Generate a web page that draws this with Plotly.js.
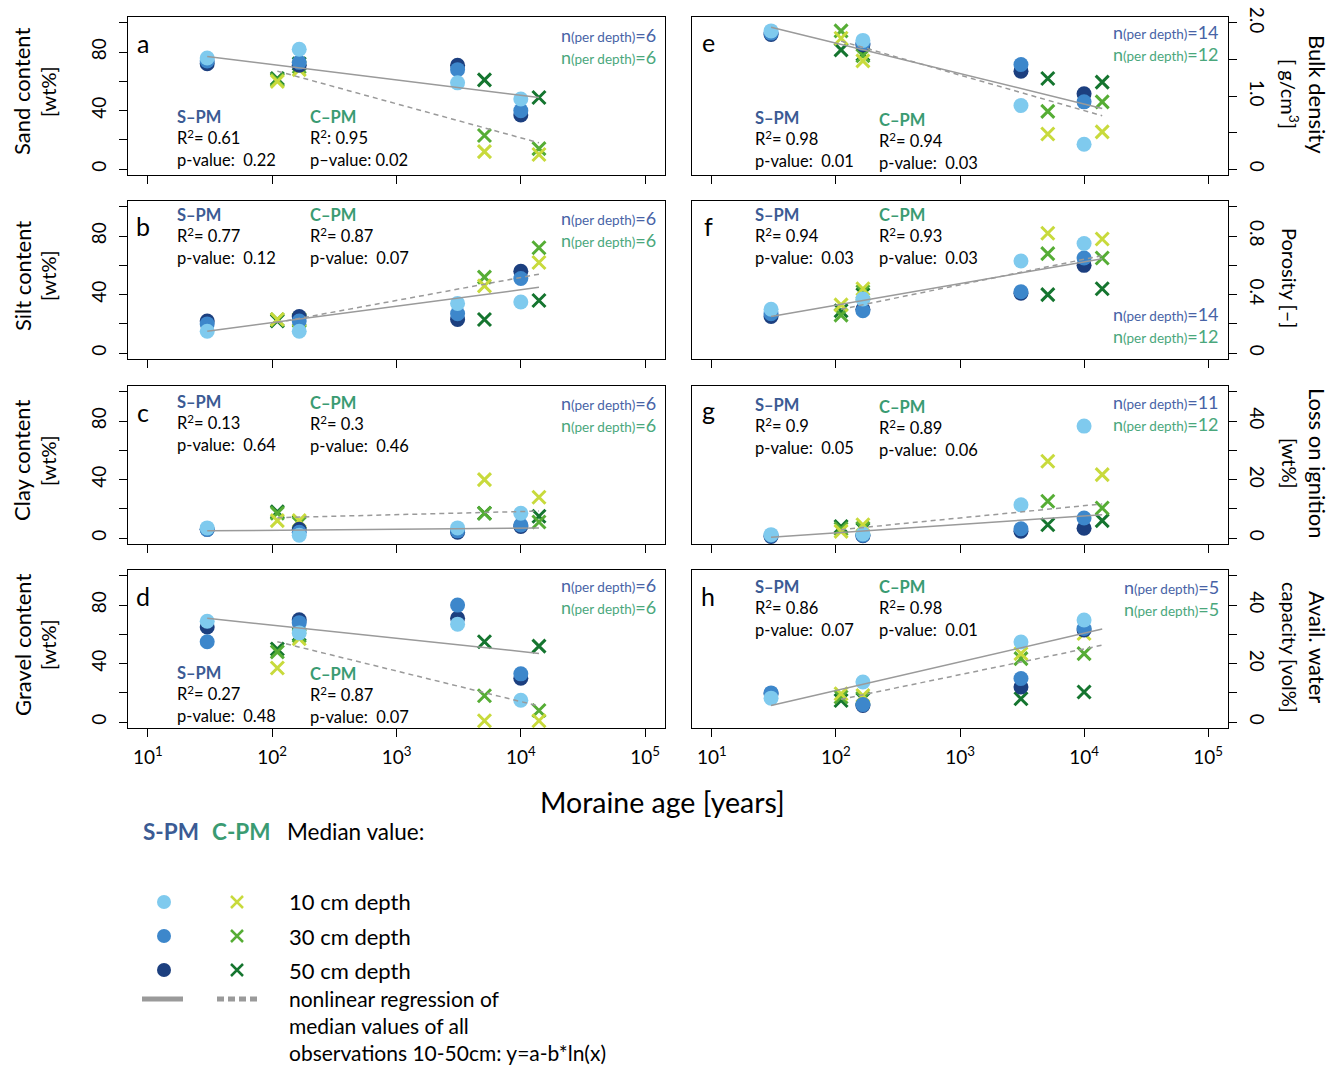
<!DOCTYPE html>
<html>
<head>
<meta charset="utf-8">
<script src="https://cdn.plot.ly/plotly-3.0.1.min.js"></script>
<style>html,body{margin:0;padding:0;background:#fff;}#chart{width:1340px;height:1065px;}</style>
</head>
<body>
<div id="chart"></div>
<script>
// ---------------- DATA ----------------
const sAge = [30, 165, 3100, 10000];
const cAge = [110, 165, 5100, 14000];
const cAgeH = [110, 165, 3100, 10000];
const fitAgeS = [30, 14000];
const fitAgeC = [110, 14000];
const xTickVals = [10, 100, 1000, 10000, 100000];
const xTickText = ['10<sup>1</sup>', '10<sup>2</sup>', '10<sup>3</sup>', '10<sup>4</sup>', '10<sup>5</sup>'];

// a: sand content [wt%]
const sand_S10 = [76, 82, 59, 48];
const sand_S30 = [74, 73, 68, 40];
const sand_S50 = [72, 71, 71, 37];
const sand_C10 = [60, 68, 12, 10];
const sand_C30 = [61, 70, 23, 14];
const sand_C50 = [62, 72, 61, 49];
const sand_fitS = [77, 49];
const sand_fitC = [67, 18];

// b: silt content [wt%]
const silt_S10 = [15, 15, 34, 35];
const silt_S30 = [20, 22, 27, 51];
const silt_S50 = [22, 25, 23, 56];
const silt_C10 = [23, 23, 46, 62];
const silt_C30 = [23, 22, 52, 72];
const silt_C50 = [22, 23, 23, 36];
const silt_fitS = [15, 45];
const silt_fitC = [21, 54];

// c: clay content [wt%]
const clay_S10 = [7, 2, 7, 17];
const clay_S30 = [6, 4, 5, 9];
const clay_S50 = [6, 6, 4, 8];
const clay_C10 = [12, 12, 40, 28];
const clay_C30 = [17, 10, 17, 11];
const clay_C50 = [18, 11, 17, 15];
const clay_fitS = [5, 7];
const clay_fitC = [14, 18.5];

// d: gravel content [wt%]
const grav_S10 = [69, 61, 67, 15];
const grav_S30 = [55, 68, 80, 33];
const grav_S50 = [65, 70, 71, 30];
const grav_C10 = [37, 57, 1, 1];
const grav_C30 = [48, 59, 18, 8];
const grav_C50 = [50, 60, 55, 52];
const grav_fitS = [71, 47];
const grav_fitC = [55, 11];

// e: bulk density [g/cm3]
const bd_S10 = [1.89, 1.76, 0.87, 0.34];
const bd_S30 = [1.86, 1.72, 1.43, 0.92];
const bd_S50 = [1.84, 1.70, 1.34, 1.03];
const bd_C10 = [1.79, 1.48, 0.48, 0.51];
const bd_C30 = [1.89, 1.55, 0.79, 0.92];
const bd_C50 = [1.63, 1.57, 1.24, 1.19];
const bd_fitS = [1.94, 0.83];
const bd_fitC = [1.75, 0.73];

// f: porosity [-]
const por_S10 = [0.30, 0.37, 0.63, 0.75];
const por_S30 = [0.27, 0.29, 0.42, 0.65];
const por_S50 = [0.25, 0.30, 0.41, 0.60];
const por_C10 = [0.33, 0.44, 0.82, 0.78];
const por_C30 = [0.26, 0.42, 0.68, 0.65];
const por_C50 = [0.29, 0.40, 0.40, 0.44];
const por_fitS = [0.25, 0.645];
const por_fitC = [0.30, 0.667];

// g: loss on ignition [wt%]
const loi_S10 = [1.2, 1.4, 11.4, 38.3];
const loi_S30 = [0.9, 1.0, 3.2, 6.9];
const loi_S50 = [0.6, 0.8, 2.4, 3.4];
const loi_C10 = [2.3, 4.6, 26.3, 21.7];
const loi_C30 = [3.2, 3.4, 12.6, 10.3];
const loi_C50 = [4.0, 3.0, 4.6, 6.0];
const loi_fitS = [0.3, 8];
const loi_fitC = [2.9, 11.7];

// h: available water capacity [vol%]
const awc_S10 = [8.2, 13.7, 27.4, 34.9];
const awc_S30 = [10, 6, 14.9, 32];
const awc_S50 = [9.7, 5.7, 12, 31.5];
const awc_C10 = [9.7, 9.1, 23.4, 30.3];
const awc_C30 = [8.6, 8.2, 21.7, 23.4];
const awc_C50 = [7.4, 7.8, 8.0, 10.3];
const awc_fitS = [5.7, 31.8];
const awc_fitC = [7.8, 26.3];

const letters = ['a', 'b', 'c', 'd', 'e', 'f', 'g', 'h'];
const statS = [['0.61', '0.22'], ['0.77', '0.12'], ['0.13', '0.64'], ['0.27', '0.48'], ['0.98', '0.01'], ['0.94', '0.03'], ['0.9', '0.05'], ['0.86', '0.07']];
const statC = [['0.95', '0.02'], ['0.87', '0.07'], ['0.3', '0.46'], ['0.87', '0.07'], ['0.94', '0.03'], ['0.93', '0.03'], ['0.89', '0.06'], ['0.98', '0.01']];
const nS = [6, 6, 6, 6, 14, 14, 11, 5];
const nC = [6, 6, 6, 6, 12, 12, 12, 5];

// ---------------- STYLE / LAYOUT ----------------
const W = 1340, H = 1065;
const FONT = 'Lato, "Open Sans", sans-serif';
const colS = ['#7fcaee', '#3d87cb', '#1c3f7f'];
const colC = ['#c8da3c', '#56ad35', '#15752f'];
const labS = '#3b5b94', labC = '#3a9b72';
const nColS = '#4863a6', nColC = '#4aa77c';
const fitCol = '#9a9a9a';

const px = x => x / W;
const py = y => 1 - y / H;

const colX = [[128, 665], [692, 1228]];
const rowY = [[17, 175], [201, 359], [386, 544], [570, 728]];

const panels = [
  {S: [sand_S10, sand_S30, sand_S50], C: [sand_C10, sand_C30, sand_C50], fS: sand_fitS, fC: sand_fitC, cA: cAge},
  {S: [silt_S10, silt_S30, silt_S50], C: [silt_C10, silt_C30, silt_C50], fS: silt_fitS, fC: silt_fitC, cA: cAge},
  {S: [clay_S10, clay_S30, clay_S50], C: [clay_C10, clay_C30, clay_C50], fS: clay_fitS, fC: clay_fitC, cA: cAge},
  {S: [grav_S10, grav_S30, grav_S50], C: [grav_C10, grav_C30, grav_C50], fS: grav_fitS, fC: grav_fitC, cA: cAge},
  {S: [bd_S10, bd_S30, bd_S50], C: [bd_C10, bd_C30, bd_C50], fS: bd_fitS, fC: bd_fitC, cA: cAge},
  {S: [por_S10, por_S30, por_S50], C: [por_C10, por_C30, por_C50], fS: por_fitS, fC: por_fitC, cA: cAge},
  {S: [loi_S10, loi_S30, loi_S50], C: [loi_C10, loi_C30, loi_C50], fS: loi_fitS, fC: loi_fitC, cA: cAge},
  {S: [awc_S10, awc_S30, awc_S50], C: [awc_C10, awc_C30, awc_C50], fS: awc_fitS, fC: awc_fitC, cA: cAgeH}
];

const pctAxis = {range: [-4, 104], major: [0, 40, 80], text: ['0', '40', '80'], minor: [20, 60, 100]};
const yAxisSpec = [
  pctAxis, pctAxis, pctAxis, pctAxis,
  {range: [-0.08, 2.08], major: [0, 1, 2], text: ['0', '1.0', '2.0'], minor: [0.5, 1.5]},
  {range: [-0.04, 1.04], major: [0, 0.4, 0.8], text: ['0', '0.4', '0.8'], minor: [0.2, 0.6, 1.0]},
  {range: [-2, 52], major: [0, 20, 40], text: ['0', '20', '40'], minor: [10, 30, 50]},
  {range: [-2, 52], major: [0, 20, 40], text: ['0', '20', '40'], minor: [10, 30, 50]}
];

const traces = [];
const layout = {
  width: W, height: H,
  margin: {l: 0, r: 0, t: 0, b: 0},
  paper_bgcolor: '#fff', plot_bgcolor: '#fff',
  showlegend: false,
  font: {family: FONT, color: '#000'},
  annotations: [], shapes: []
};

panels.forEach((p, i) => {
  const k = i + 1;
  const col = i < 4 ? 0 : 1;
  const row = i % 4;
  const xa = 'x' + (k === 1 ? '' : k), ya = 'y' + (k === 1 ? '' : k);
  const xk = 'xaxis' + (k === 1 ? '' : k), yk = 'yaxis' + (k === 1 ? '' : k);
  const [x0, x1] = colX[col];
  const [y0, y1] = rowY[row];
  const bottom = row === 3;
  layout[xk] = {
    type: 'log', range: [0.84, 5.16], domain: [px(x0), px(x1)], anchor: ya,
    showgrid: false, zeroline: false, showline: true, mirror: true, linecolor: '#000', linewidth: 1,
    ticks: bottom ? 'outside' : '', ticklen: 8, tickwidth: 1, tickcolor: '#000',
    tickmode: 'array', tickvals: bottom ? xTickVals : [], ticktext: bottom ? xTickText : [],
    showticklabels: bottom, tickfont: {family: FONT, size: 19}, ticklabelstandoff: 4,
    minor: bottom ? {ticks: ''} : {tickmode: 'array', tickvals: xTickVals, ticks: 'outside', ticklen: 8, tickwidth: 1, tickcolor: '#000', showgrid: false}
  };
  const ys = yAxisSpec[i];
  layout[yk] = {
    range: ys.range, domain: [py(y1), py(y0)], anchor: xa, side: col === 0 ? 'left' : 'right',
    showgrid: false, zeroline: false, showline: true, mirror: true, linecolor: '#000', linewidth: 1,
    ticks: 'outside', ticklen: 8, tickwidth: 1, tickcolor: '#000',
    tickmode: 'array', tickvals: ys.major, ticktext: ys.text,
    minor: {tickmode: 'array', tickvals: ys.minor, ticks: 'outside', ticklen: 8, tickwidth: 1, tickcolor: '#000', showgrid: false},
    tickangle: col === 0 ? -90 : 90, tickfont: {family: FONT, size: 19}, ticklabelstandoff: 5
  };
  // C-PM crosses (drawn first), 50 -> 30 -> 10
  for (let d = 2; d >= 0; d--) {
    traces.push({
      type: 'scatter', mode: 'markers', x: p.cA, y: p.C[d], xaxis: xa, yaxis: ya,
      marker: {symbol: 'x-thin-open', size: 13, color: colC[d], line: {color: colC[d], width: 3}},
      cliponaxis: false, hoverinfo: 'skip'
    });
  }
  // S-PM circles, 50 -> 30 -> 10
  for (let d = 2; d >= 0; d--) {
    traces.push({
      type: 'scatter', mode: 'markers', x: sAge, y: p.S[d], xaxis: xa, yaxis: ya,
      marker: {symbol: 'circle', size: 15, color: colS[d], line: {width: 0}},
      cliponaxis: false, hoverinfo: 'skip'
    });
  }
  traces.push({type: 'scatter', mode: 'lines', x: fitAgeS, y: p.fS, xaxis: xa, yaxis: ya,
    line: {color: fitCol, width: 1.5}, hoverinfo: 'skip'});
  traces.push({type: 'scatter', mode: 'lines', x: fitAgeC, y: p.fC, xaxis: xa, yaxis: ya,
    line: {color: fitCol, width: 1.5, dash: '5px,4px'}, hoverinfo: 'skip'});
});

function ann(x, y, text, size, opts) {
  layout.annotations.push(Object.assign({
    xref: 'paper', yref: 'paper', x: px(x), y: py(y), text: text, showarrow: false,
    xanchor: 'left', yanchor: 'middle', font: {family: FONT, size: size, color: '#000'}
  }, opts || {}));
}

// panel letters
const letterPos = [[143, 43], [143, 226], [143, 412], [143, 596], [708, 42], [708, 226], [708, 410], [708, 596]];
letters.forEach((l, i) => ann(letterPos[i][0], letterPos[i][1], l, 25, {xanchor: 'center'}));

// statistic blocks (top of block, in pixels)
const statTop = [[106, 106], [204, 204], [391, 392], [662, 663], [107, 109], [204, 204], [394, 396], [576, 576]];
const NB = '\u00a0';
statTop.forEach((st, i) => {
  const xs = i < 4 ? 176 : 754, xc = i < 4 ? 309 : 878;
  const headS = '<span style="color:' + labS + '"><b>S\u2013PM</b></span>';
  const headC = '<span style="color:' + labC + '"><b>C\u2013PM</b></span>';
  const tS = headS + '<br>R<sup>2</sup>=' + NB + statS[i][0] + '<br>p-value:' + NB + NB + statS[i][1];
  const tC = i === 0
    ? headC + '<br>R<sup>2</sup>:' + NB + statC[i][0] + '<br>p\u2013value:' + NB + statC[i][1]
    : headC + '<br>R<sup>2</sup>=' + NB + statC[i][0] + '<br>p-value:' + NB + NB + statC[i][1];
  ann(xs, st[0], tS, 16.5, {yanchor: 'top', align: 'left', borderpad: 0});
  ann(xc, st[1], tC, 16.5, {yanchor: 'top', align: 'left', borderpad: 0});
});

// n (per depth) labels
const nPos = [[658, 35, 57], [658, 218, 240], [658, 403, 425], [658, 585, 607],
              [1221, 32, 54], [1221, 314, 336], [1221, 402, 424], [1221, 587, 609]];
nPos.forEach((np, i) => {
  const sm = t => '<span style="font-size:13.5px">' + t + '</span>';
  ann(np[0], np[1], 'n' + sm('(per depth)') + '=' + nS[i], 18, {xanchor: 'right', font: {family: FONT, size: 18, color: nColS}});
  ann(np[0], np[2], 'n' + sm('(per depth)') + '=' + nC[i], 18, {xanchor: 'right', font: {family: FONT, size: 18, color: nColC}});
});

// y-axis titles
const leftTitles = ['Sand content', 'Silt content', 'Clay content', 'Gravel content'];
leftTitles.forEach((t, r) => {
  const cy = (rowY[r][0] + rowY[r][1]) / 2 - 4;
  ann(22, cy, t, 22, {xanchor: 'center', textangle: -90});
  ann(48, cy, '[wt%]', 20, {xanchor: 'center', textangle: -90});
});
const rightTitles = [['Bulk density', '[ g/cm<sup>3</sup>]'], [null, 'Porosity [\u2013]'], ['Loss on ignition', '[wt%]'], ['Avail. water', 'capacity [vol%]']];
rightTitles.forEach((t, r) => {
  const cy = (rowY[r][0] + rowY[r][1]) / 2 - 2;
  if (t[0]) ann(1318, cy, t[0], 22, {xanchor: 'center', textangle: 90});
  ann(1290, cy, t[1], 20, {xanchor: 'center', textangle: 90});
});

// x-axis title
ann(662, 802, 'Moraine age [years]', 28.5, {xanchor: 'center'});

// legend
ann(141, 831, '<b>S-PM</b>', 22.5, {font: {family: FONT, size: 22.5, color: labS}});
ann(210, 831, '<b>C-PM</b>', 22.5, {font: {family: FONT, size: 22.5, color: labC}});
ann(285, 831, 'Median value:', 22.5);
const depthLabels = ['10 cm depth', '30 cm depth', '50 cm depth'];
const legY = [902, 936, 970];
depthLabels.forEach((t, d) => {
  const y = legY[d];
  ann(287, y, t, 22);
  layout.shapes.push({type: 'circle', xref: 'paper', yref: 'paper',
    x0: px(157), x1: px(171), y0: py(y + 7), y1: py(y - 7), fillcolor: colS[d], line: {width: 0}});
  layout.shapes.push({type: 'path', xref: 'paper', yref: 'paper',
    path: 'M' + px(231) + ',' + py(y - 6) + ' L' + px(243) + ',' + py(y + 6) +
          ' M' + px(231) + ',' + py(y + 6) + ' L' + px(243) + ',' + py(y - 6),
    line: {color: colC[d], width: 2.5}});
});
layout.shapes.push({type: 'line', xref: 'paper', yref: 'paper', x0: px(142), x1: px(183), y0: py(999), y1: py(999),
  line: {color: fitCol, width: 5}});
layout.shapes.push({type: 'line', xref: 'paper', yref: 'paper', x0: px(217), x1: px(260), y0: py(999), y1: py(999),
  line: {color: fitCol, width: 5, dash: '7px,4px'}});
ann(287, 998, 'nonlinear regression of', 21);
ann(287, 1025, 'median values of all', 21);
ann(287, 1052, 'observations 10-50cm: y=a-b*ln(x)', 21);

Plotly.newPlot('chart', traces, layout, {staticPlot: true, displayModeBar: false});
</script>
</body>
</html>
